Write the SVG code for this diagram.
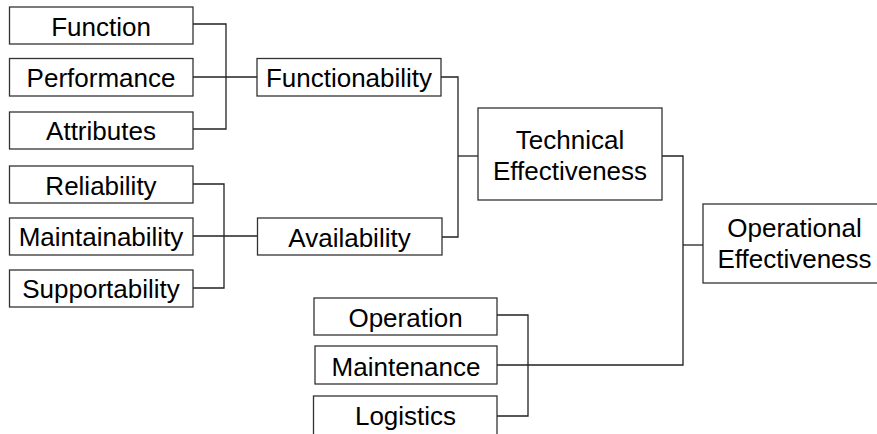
<svg xmlns="http://www.w3.org/2000/svg" width="877" height="434" viewBox="0 0 877 434">
  <style>
    .box { fill: #ffffff; stroke: #333333; stroke-width: 1.3; }
    .lbl { font-family: "Liberation Sans", Arial, sans-serif; font-size: 26px; fill: #000000; text-anchor: middle; }
    .wire { fill: none; stroke: #222222; stroke-width: 1.3; }
  </style>
  <rect width="877" height="434" fill="#ffffff"/>

  <!-- connectors -->
  <g id="connectors" class="wire">
    <path d="M193,24 H226 V129 H193"/>
    <path d="M193,77 H257"/>
    <path d="M193,184 H224 V288 H193"/>
    <path d="M193,236 H258"/>
    <path d="M441,77 H458 V237 H442"/>
    <path d="M458,156 H478"/>
    <path d="M662,156 H683 V365 H497"/>
    <path d="M683,245 H703"/>
    <path d="M497,315 H528 V416 H497"/>
  </g>

  <!-- leaf nodes: functionability inputs -->
  <g id="function"><rect class="box" x="9.5" y="7" width="183.5" height="37"/><text class="lbl" x="101" y="36">Function</text></g>
  <g id="performance"><rect class="box" x="9.5" y="58.5" width="183.5" height="37.5"/><text class="lbl" x="101" y="87">Performance</text></g>
  <g id="attributes"><rect class="box" x="9.5" y="112" width="183.5" height="37"/><text class="lbl" x="101" y="140">Attributes</text></g>

  <!-- leaf nodes: availability inputs -->
  <g id="reliability"><rect class="box" x="9.5" y="166" width="183.5" height="37"/><text class="lbl" x="101" y="194.5">Reliability</text></g>
  <g id="maintainability"><rect class="box" x="9.5" y="218" width="183.5" height="37"/><text class="lbl" x="101" y="246">Maintainability</text></g>
  <g id="supportability"><rect class="box" x="9.5" y="270" width="183.5" height="37"/><text class="lbl" x="101" y="298">Supportability</text></g>

  <!-- intermediate nodes -->
  <g id="functionability"><rect class="box" x="257" y="58.5" width="184" height="37.5"/><text class="lbl" x="349" y="87">Functionability</text></g>
  <g id="availability"><rect class="box" x="257.5" y="218" width="184.5" height="37"/><text class="lbl" x="349.5" y="246.5">Availability</text></g>

  <g id="technical-effectiveness"><rect class="box" x="478" y="108" width="184" height="92"/>
    <text class="lbl" x="570" y="149">Technical</text>
    <text class="lbl" x="570" y="180">Effectiveness</text>
  </g>

  <g id="operational-effectiveness"><rect class="box" x="703" y="204" width="183" height="79"/>
    <text class="lbl" x="794.5" y="237">Operational</text>
    <text class="lbl" x="794.5" y="268">Effectiveness</text>
  </g>

  <!-- support inputs -->
  <g id="operation"><rect class="box" x="314" y="298" width="183" height="37"/><text class="lbl" x="405.5" y="326.5">Operation</text></g>
  <g id="maintenance"><rect class="box" x="315" y="346" width="182" height="38"/><text class="lbl" x="406" y="375.5">Maintenance</text></g>
  <g id="logistics"><rect class="box" x="313.5" y="396" width="183.5" height="42"/><text class="lbl" x="405.5" y="425">Logistics</text></g>
</svg>
